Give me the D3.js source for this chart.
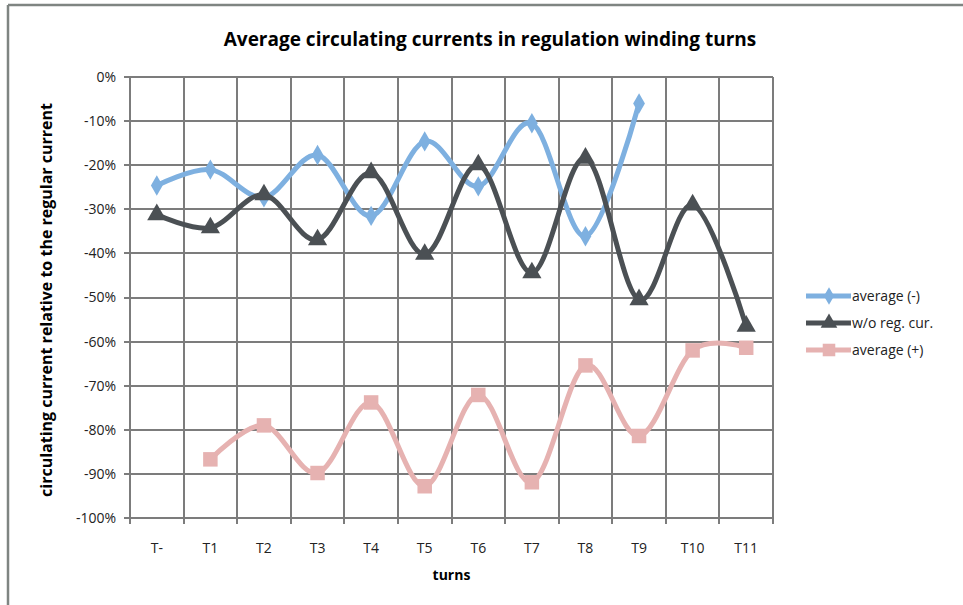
<!DOCTYPE html>
<html lang="en">
<head>
    <meta charset="UTF-8">
    <title>Average circulating currents</title>
    <style>
        body { margin: 0; background: #fff; }
        #chart { font-family: "Open Sans", sans-serif; }
        .grid line { stroke: #7c7c7c; stroke-width: 2px; shape-rendering: crispEdges; }
        .tick-label { font-size: 14px; fill: #222; }
        .series { fill: none; stroke-width: 5px; stroke-linejoin: round; }
        .legend-text { font-size: 14px; fill: #222; }
    </style>
    <script src="https://d3js.org/d3.v7.min.js"></script>
</head>
<body>
    <div id="chart"></div>
    <script>
        // categories and series (values in %, null = no point)
        const turns = ['T-', 'T1', 'T2', 'T3', 'T4', 'T5', 'T6', 'T7', 'T8', 'T9', 'T10', 'T11'];
        const avgMinus = [-24.6, -21.0, -27.3, -17.7, -31.5, -14.6, -24.8, -10.5, -36.1, -6.0, null, null];
        const withoutReg = [-31.2, -34.2, -26.7, -36.9, -21.7, -40.2, -19.9, -44.4, -18.4, -50.5, -29.0, -56.5];
        const avgPlus = [null, -86.7, -79.0, -89.8, -73.8, -92.8, -72.1, -91.9, -65.4, -81.4, -62.0, -61.4];
        const yTicks = [0, -10, -20, -30, -40, -50, -60, -70, -80, -90, -100];

        const seriesList = [
            { name: 'average (-)', values: avgMinus, color: '#7eb0e0', marker: d3.symbolDiamond, size: 120 },
            { name: 'w/o reg. cur.', values: withoutReg, color: '#4b5054', marker: d3.symbolTriangle, size: 160 },
            { name: 'average (+)', values: avgPlus, color: '#e6b2b1', marker: d3.symbolSquare, size: 210 }
        ];

        const W = 963, H = 605;
        const plot = { left: 130, right: 773, top: 77, bottom: 518 };

        const svg = d3.select('#chart').append('svg')
            .attr('width', W)
            .attr('height', H);

        // outer chart frame (only left and top visible)
        svg.append('line').attr('x1', 8).attr('x2', 8).attr('y1', 5).attr('y2', H)
            .attr('stroke', '#7f8582').attr('stroke-width', 2.5);
        svg.append('line').attr('x1', 8).attr('x2', W).attr('y1', 5).attr('y2', 5)
            .attr('stroke', '#7f8582').attr('stroke-width', 2.5);

        const x = d3.scaleBand()
            .domain(turns)
            .range([plot.left, plot.right])
            .padding(0);

        const y = d3.scaleLinear()
            .domain([-100, 0])
            .range([plot.bottom, plot.top]);

        const grid = svg.append('g').attr('class', 'grid');

        // horizontal gridlines + y ticks
        grid.selectAll('.hline')
            .data(yTicks)
            .enter().append('line')
            .attr('x1', plot.left - 6)
            .attr('x2', plot.right)
            .attr('y1', d => y(d))
            .attr('y2', d => y(d));

        // vertical gridlines at category boundaries + x ticks
        const bounds = turns.map(t => x(t)).concat([plot.right]);
        grid.selectAll('.vline')
            .data(bounds)
            .enter().append('line')
            .attr('x1', d => d)
            .attr('x2', d => d)
            .attr('y1', plot.top)
            .attr('y2', plot.bottom + 6);

        // y tick labels
        svg.selectAll('.ylab')
            .data(yTicks)
            .enter().append('text')
            .attr('class', 'tick-label')
            .attr('x', plot.left - 14)
            .attr('y', d => y(d))
            .attr('dy', '0.35em')
            .attr('text-anchor', 'end')
            .text(d => d + '%');

        // x tick labels
        svg.selectAll('.xlab')
            .data(turns)
            .enter().append('text')
            .attr('class', 'tick-label')
            .attr('x', d => x(d) + x.bandwidth() / 2)
            .attr('y', plot.bottom + 35)
            .attr('text-anchor', 'middle')
            .text(d => d);

        // title and axis titles
        svg.append('text')
            .attr('x', 490)
            .attr('y', 46)
            .attr('text-anchor', 'middle')
            .style('font-size', '19px')
            .style('font-weight', 'bold')
            .text('Average circulating currents in regulation winding turns');

        svg.append('text')
            .attr('x', (plot.left + plot.right) / 2)
            .attr('y', 580)
            .attr('text-anchor', 'middle')
            .style('font-size', '14px')
            .style('font-weight', 'bold')
            .text('turns');

        svg.append('text')
            .attr('transform', `translate(52, 300) rotate(-90)`)
            .attr('text-anchor', 'middle')
            .style('font-size', '16px')
            .style('font-weight', 'bold')
            .text('circulating current relative to the regular current');

        const line = d3.line()
            .defined(d => d.v !== null)
            .x(d => x(d.t) + x.bandwidth() / 2)
            .y(d => y(d.v))
            .curve(d3.curveCardinal.tension(0));

        seriesList.forEach(s => {
            const pts = turns.map((t, i) => ({ t: t, v: s.values[i] }));
            svg.append('path')
                .attr('class', 'series')
                .attr('d', line(pts))
                .attr('stroke', s.color);

            svg.selectAll(null)
                .data(pts.filter(d => d.v !== null))
                .enter().append('path')
                .attr('d', d3.symbol().type(s.marker).size(s.size))
                .attr('transform', d => `translate(${x(d.t) + x.bandwidth() / 2},${y(d.v)})`)
                .attr('fill', s.color);
        });

        // legend
        const legend = svg.selectAll('.legend')
            .data(seriesList)
            .enter().append('g')
            .attr('class', 'legend')
            .attr('transform', (d, i) => `translate(806, ${296 + i * 27})`);

        legend.append('line')
            .attr('x1', 0).attr('x2', 45)
            .attr('y1', 0).attr('y2', 0)
            .attr('stroke', d => d.color)
            .attr('stroke-width', 5);

        legend.append('path')
            .attr('d', d => d3.symbol().type(d.marker).size(d.size * 0.75)())
            .attr('transform', 'translate(23,0)')
            .attr('fill', d => d.color);

        legend.append('text')
            .attr('class', 'legend-text')
            .attr('x', 46)
            .attr('y', 0)
            .attr('dy', '0.35em')
            .text(d => d.name);
    </script>
</body>
</html>
